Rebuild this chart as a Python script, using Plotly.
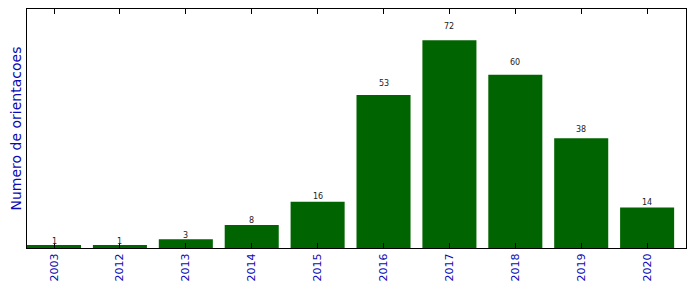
import plotly.graph_objects as go

years = ["2003", "2012", "2013", "2014", "2015", "2016", "2017", "2018", "2019", "2020"]
counts = [1, 1, 3, 8, 16, 53, 72, 60, 38, 14]

label_color = "#0a0ab4"

fig = go.Figure()
fig.add_trace(go.Bar(
    x=list(range(len(years))), y=counts, width=0.82,
    marker=dict(color="#006400", line=dict(width=0)),
    hoverinfo="skip",
))

for i, v in enumerate(counts):
    fig.add_annotation(x=i, y=v * 1.05, text=str(v), showarrow=False,
                       yanchor="bottom", xanchor="center", borderpad=0,
                       yshift=-2,
                       font=dict(family="DejaVu Sans", size=8, color="#222222"))

fig.add_annotation(text="Numero de orientacoes", xref="paper", yref="paper",
                   x=0, y=0.5, xanchor="center", yanchor="middle",
                   xshift=-12, textangle=-90, showarrow=False,
                   font=dict(family="DejaVu Sans", size=14, color=label_color))

fig.update_layout(
    width=696, height=292,
    margin=dict(l=27, r=10, t=9, b=44),
    paper_bgcolor="white", plot_bgcolor="white",
    showlegend=False,
)
fig.update_xaxes(
    range=[-0.41, len(years) - 0.41],
    tickmode="array", tickvals=list(range(len(years))), ticktext=years,
    tickangle=-90,
    tickfont=dict(family="DejaVu Sans", size=11, color=label_color),
    ticks="inside", ticklen=5, tickcolor="black", tickwidth=1,
    showline=True, linecolor="black", linewidth=1, mirror="ticks",
    showgrid=False, zeroline=False, automargin=False,
)
fig.update_yaxes(
    range=[0, 82.8],
    showticklabels=False, ticks="",
    showline=True, linecolor="black", linewidth=1, mirror=True,
    showgrid=False, zeroline=False, automargin=False,
)

fig.write_html("out.html")
